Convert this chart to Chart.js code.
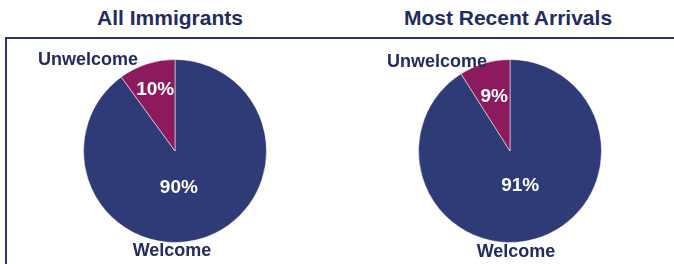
<!DOCTYPE html>
<html>
<head>
<meta charset="utf-8">
<script src="https://cdn.jsdelivr.net/npm/chart.js@4.4.1/dist/chart.umd.min.js"></script>
<style>
  body { margin: 0; background: #fff; font-family: "Liberation Sans", Arial, sans-serif; }
  #wrap { position: relative; width: 674px; height: 264px; overflow: hidden; }
  .title { position: absolute; top: 6px; font-weight: bold; font-size: 21px; color: #222c62; text-align: center; width: 300px; }
  #frameTop { position: absolute; left: 5px; top: 37px; width: 669px; height: 2px; background: #2a3470; }
  #frameLeft { position: absolute; left: 5px; top: 37px; width: 2px; height: 227px; background: #2a3470; }
  canvas { position: absolute; top: 40px; }
</style>
</head>
<body>
<div id="wrap">
  <div class="title" style="left:20px">All Immigrants</div>
  <div class="title" style="left:358px">Most Recent Arrivals</div>
  <div id="frameTop"></div>
  <div id="frameLeft"></div>
  <canvas id="pieAll" width="340" height="224" style="left:0px"></canvas>
  <canvas id="pieRecent" width="334" height="224" style="left:340px"></canvas>
</div>
<script>
// Daten aus der Vorlage
const categories = ['Welcome', 'Unwelcome'];
const allImmigrants = [90, 10];
const recentArrivals = [91, 9];

const sliceColors = ['#2e3b76', '#8c1a5c'];
const textColor = '#222c62';

// Beschriftungen: Prozent im Segment, Name außerhalb
const sliceLabels = {
    id: 'sliceLabels',
    afterDatasetsDraw(chart, args, opts) {
        const ctx = chart.ctx;
        const meta = chart.getDatasetMeta(0);
        const values = chart.data.datasets[0].data;
        ctx.save();
        ctx.textAlign = 'center';
        ctx.textBaseline = 'middle';
        meta.data.forEach((arc, i) => {
            const p = arc.getProps(['x', 'y', 'startAngle', 'endAngle', 'outerRadius'], true);
            const mid = (p.startAngle + p.endAngle) / 2;
            const r = p.outerRadius * opts.inside[i];
            ctx.font = 'bold 19px "Liberation Sans", Arial, sans-serif';
            ctx.fillStyle = '#fff';
            ctx.fillText(values[i] + '%', p.x + Math.cos(mid) * r + opts.shift[i][0], p.y + Math.sin(mid) * r);

            ctx.fillStyle = textColor;
            ctx.font = 'bold 18px "Liberation Sans", Arial, sans-serif';
            const off = opts.outside[i];
            ctx.fillText(chart.data.labels[i], p.x + off[0], p.y + off[1]);
        });
        ctx.restore();
    }
};

function makePie(id, values, pad, inside, shift, outside) {
    return new Chart(document.getElementById(id), {
        type: 'pie',
        data: {
            labels: categories,
            datasets: [{
                data: values,
                backgroundColor: sliceColors,
                borderColor: 'rgba(255,255,255,0.5)',
                borderWidth: 1
            }]
        },
        options: {
            responsive: false,
            animation: false,
            devicePixelRatio: 1,
            layout: { padding: pad },
            plugins: {
                legend: { display: false },
                tooltip: { enabled: false },
                sliceLabels: { inside: inside, shift: shift, outside: outside }
            }
        },
        plugins: [sliceLabels]
    });
}

makePie('pieAll', allImmigrants,
    { left: 83, right: 73, top: 19, bottom: 21 },
    [0.42, 0.70], [[-8, 0], [0, 0]],
    [[-3, 100], [-87, -91]]);

makePie('pieRecent', recentArrivals,
    { left: 78, right: 72, top: 19, bottom: 21 },
    [0.40, 0.62], [[0, 0], [0, 0]],
    [[6, 101], [-73, -89]]);
</script>
</body>
</html>
